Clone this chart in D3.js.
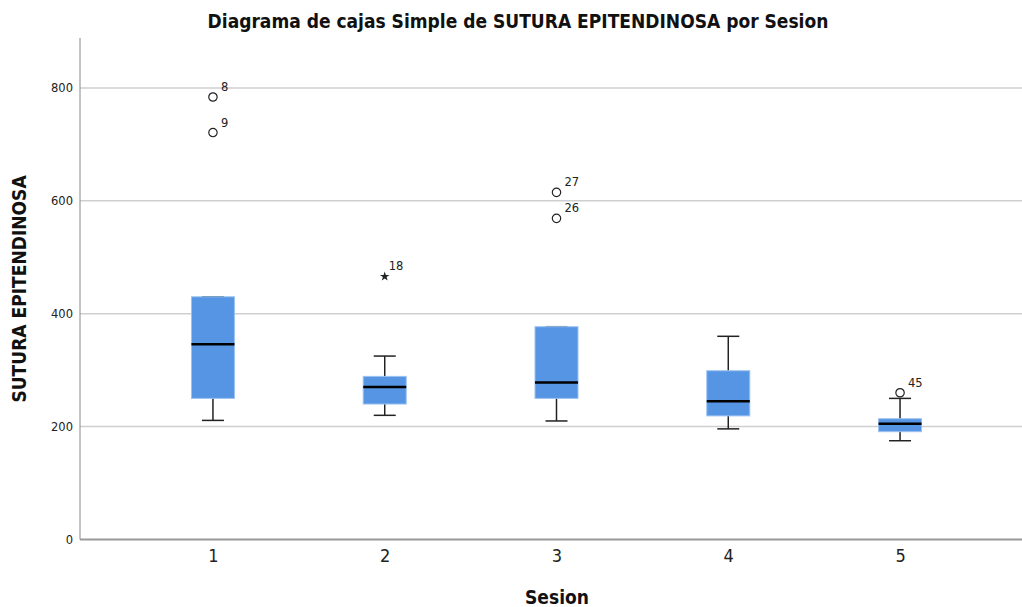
<!DOCTYPE html>
<html>
<head>
<meta charset="utf-8">
<script src="https://cdn.jsdelivr.net/npm/d3@7"></script>
<style>
body { margin: 0; background: #fff; }
svg { display: block; }
</style>
</head>
<body>
<svg width="1022" height="607"></svg>
<script>
var svg = d3.select('svg');
var width = +svg.attr('width');
var height = +svg.attr('height');

// Data
var sessions = ['1', '2', '3', '4', '5'];
var whiskerLow = [211, 220, 210, 196, 175];
var q1 = [250, 240, 250, 219, 191];
var medians = [346, 270, 278, 245, 205];
var q3 = [430, 289, 377, 299, 214];
var whiskerHigh = [430, 325, 377, 360, 250];
var yTicks = [0, 200, 400, 600, 800];

// outliers: [session, value, case label, kind]
var outliers = [
	['1', 784, '8', 'circle'],
	['1', 721, '9', 'circle'],
	['2', 466, '18', 'star'],
	['3', 615, '27', 'circle'],
	['3', 569, '26', 'circle'],
	['5', 260, '45', 'circle']
];

var boxes = sessions.map(function(s, i) {
	return {s: s, lo: whiskerLow[i], q1: q1[i], med: medians[i], q3: q3[i], hi: whiskerHigh[i]};
});

var plotLeft = 80, plotTop = 38, plotBottom = 539.5;

var x = d3.scalePoint()
	.domain(sessions)
	.range([80, 1033])
	.padding(0.774);

var y = d3.scaleLinear()
	.domain([0, 888.5])
	.range([plotBottom, plotTop]);

var font = '"Liberation Sans Narrow", "DejaVu Sans Condensed", Arial, sans-serif';

// Gridlines
svg.append('g')
	.selectAll('line')
	.data(yTicks.filter(function(d) { return d > 0; }))
	.enter()
	.append('line')
	.attr('x1', plotLeft)
	.attr('x2', width)
	.attr('y1', function(d) { return y(d); })
	.attr('y2', function(d) { return y(d); })
	.attr('stroke', '#cfcfcf')
	.attr('stroke-width', 1.5);

// Y axis
var yAxis = svg.append('g')
	.attr('transform', 'translate(' + plotLeft + ',0)')
	.call(d3.axisLeft(y).tickValues(yTicks).tickSize(0).tickPadding(7));
yAxis.select('.domain').remove();
yAxis.selectAll('text')
	.attr('font-family', '"DejaVu Sans", sans-serif')
	.attr('font-size', 11.5)
	.attr('fill', '#222');
svg.append('line')
	.attr('x1', plotLeft).attr('x2', plotLeft)
	.attr('y1', plotTop).attr('y2', plotBottom)
	.attr('stroke', '#888').attr('stroke-width', 1);

// X axis
var xAxis = svg.append('g')
	.attr('transform', 'translate(0,' + plotBottom + ')')
	.call(d3.axisBottom(x).tickSize(0).tickPadding(10));
xAxis.select('.domain').remove();
xAxis.selectAll('text')
	.attr('font-family', '"DejaVu Sans Condensed", "DejaVu Sans", sans-serif')
	.attr('font-size', 18)
	.attr('fill', '#222');
svg.append('line')
	.attr('x1', plotLeft).attr('x2', width)
	.attr('y1', plotBottom).attr('y2', plotBottom)
	.attr('stroke', '#999').attr('stroke-width', 2);

// Boxes
var boxW = 43, capW = 22;
var g = svg.append('g')
	.selectAll('g')
	.data(boxes)
	.enter()
	.append('g')
	.attr('transform', function(d) { return 'translate(' + x(d.s) + ',0)'; });

g.append('line')
	.attr('x1', 0).attr('x2', 0)
	.attr('y1', function(d) { return y(d.lo); })
	.attr('y2', function(d) { return y(d.hi); })
	.attr('stroke', '#222').attr('stroke-width', 1.5);
g.append('line')
	.attr('x1', -capW/2).attr('x2', capW/2)
	.attr('y1', function(d) { return y(d.lo); })
	.attr('y2', function(d) { return y(d.lo); })
	.attr('stroke', '#222').attr('stroke-width', 1.5);
g.append('line')
	.attr('x1', -capW/2).attr('x2', capW/2)
	.attr('y1', function(d) { return y(d.hi); })
	.attr('y2', function(d) { return y(d.hi); })
	.attr('stroke', '#222').attr('stroke-width', 1.5);
g.append('rect')
	.attr('x', -boxW/2)
	.attr('width', boxW)
	.attr('y', function(d) { return y(d.q3); })
	.attr('height', function(d) { return y(d.q1) - y(d.q3); })
	.attr('fill', '#5595e3')
	.attr('stroke', '#9cc2f1')
	.attr('stroke-width', 1);
g.append('line')
	.attr('x1', -boxW/2).attr('x2', boxW/2)
	.attr('y1', function(d) { return y(d.med); })
	.attr('y2', function(d) { return y(d.med); })
	.attr('stroke', '#000').attr('stroke-width', 2.5);

// Outliers
var o = svg.append('g')
	.selectAll('g')
	.data(outliers)
	.enter()
	.append('g')
	.attr('transform', function(d) { return 'translate(' + x(d[0]) + ',' + y(d[1]) + ')'; });
o.filter(function(d) { return d[3] === 'circle'; })
	.append('circle')
	.attr('r', 4.2)
	.attr('fill', 'none')
	.attr('stroke', '#222')
	.attr('stroke-width', 1.2);
o.filter(function(d) { return d[3] === 'star'; })
	.append('path')
	.attr('d', d3.symbol().type(d3.symbolStar).size(28))
	.attr('fill', '#222');
o.append('text')
	.attr('x', function(d) { return d[3] === 'star' ? 4 : 8; })
	.attr('y', -6)
	.attr('font-family', '"DejaVu Sans", sans-serif')
	.attr('font-size', 11.5)
	.attr('fill', '#222')
	.text(function(d) { return d[2]; });

// Title and axis labels
svg.append('text')
	.attr('x', 518).attr('y', 28)
	.attr('text-anchor', 'middle')
	.attr('font-family', font)
	.attr('font-weight', 'bold')
	.attr('font-size', 19)
	.attr('fill', '#111')
	.text('Diagrama de cajas Simple de SUTURA EPITENDINOSA por Sesion');

svg.append('text')
	.attr('transform', 'translate(26,289) rotate(-90)')
	.attr('text-anchor', 'middle')
	.attr('font-family', font)
	.attr('font-weight', 'bold')
	.attr('font-size', 19)
	.attr('fill', '#111')
	.text('SUTURA EPITENDINOSA');

svg.append('text')
	.attr('x', 557).attr('y', 604)
	.attr('text-anchor', 'middle')
	.attr('font-family', font)
	.attr('font-weight', 'bold')
	.attr('font-size', 19)
	.attr('fill', '#111')
	.text('Sesion');
</script>
</body>
</html>
